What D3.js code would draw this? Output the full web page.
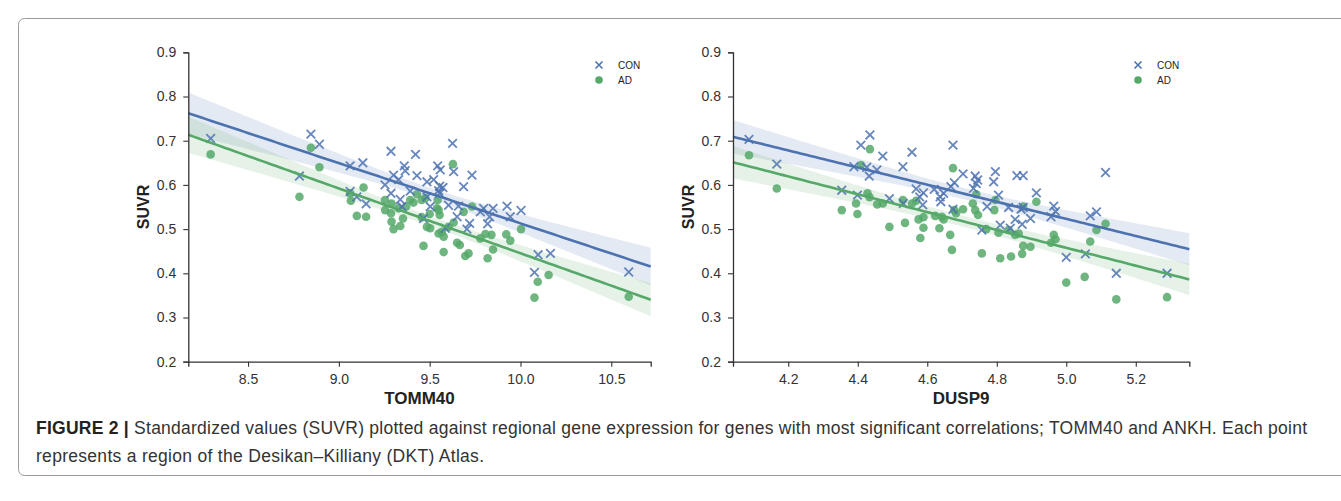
<!DOCTYPE html>
<html><head><meta charset="utf-8">
<script src="https://cdn.jsdelivr.net/npm/d3@7/dist/d3.min.js"></script>
<style>
body{margin:0;background:#fff;}
svg{display:block;}
text{font-family:"Liberation Sans",Arial,sans-serif;}
</style></head>
<body>
<svg id="fig" width="1341" height="501"></svg>
<script>
// ---------- DATA ----------
const seriesNames = ["CON", "AD"];
const yTicks = [0.2, 0.3, 0.4, 0.5, 0.6, 0.7, 0.8, 0.9];
const tommTicks = [8.5, 9.0, 9.5, 10.0, 10.5];
const duspTicks = [4.2, 4.4, 4.6, 4.8, 5.0, 5.2];

// TOMM40 expression (x) and SUVR (y), control group
const tommConX = [8.294,8.846,8.893,8.783,9.062,9.132,9.287,9.422,9.360,9.365,9.301,9.430,9.254,9.485,9.287,9.393,9.338,9.062,9.099,9.150,9.626,9.544,9.558,9.632,9.733,9.522,9.329,9.555,9.573,9.549,9.555,9.687,9.485,9.347,9.604,9.659,9.503,9.797,9.849,9.926,10.003,9.944,9.830,9.651,9.819,9.720,9.705,9.466,9.586,10.097,10.077,10.165,10.596,9.779];
const tommConY = [0.705,0.715,0.692,0.620,0.643,0.650,0.676,0.669,0.643,0.632,0.622,0.621,0.600,0.607,0.581,0.586,0.567,0.585,0.573,0.557,0.694,0.643,0.634,0.630,0.622,0.612,0.612,0.597,0.594,0.587,0.581,0.596,0.573,0.551,0.554,0.552,0.551,0.547,0.547,0.552,0.542,0.528,0.528,0.528,0.512,0.513,0.500,0.524,0.502,0.442,0.402,0.445,0.403,0.539];
// TOMM40, AD group
const tommAdX = [8.294,8.846,8.893,8.783,9.136,9.062,9.066,9.099,9.150,9.254,9.290,9.255,9.287,9.430,9.393,9.411,9.371,9.329,9.290,9.301,9.338,9.353,9.466,9.485,9.628,9.456,9.476,9.544,9.540,9.555,9.549,9.500,9.456,9.503,9.549,9.567,9.577,9.577,9.604,9.632,9.651,9.666,9.696,9.714,9.687,9.733,9.779,9.807,9.840,9.849,9.819,9.922,9.944,10.003,10.155,10.095,10.077,10.596];
const tommAdY = [0.669,0.684,0.640,0.573,0.594,0.581,0.564,0.530,0.528,0.566,0.558,0.543,0.536,0.579,0.566,0.560,0.551,0.547,0.517,0.500,0.507,0.524,0.462,0.505,0.647,0.566,0.570,0.566,0.547,0.532,0.543,0.534,0.527,0.502,0.490,0.494,0.483,0.448,0.505,0.515,0.469,0.464,0.439,0.445,0.539,0.551,0.479,0.489,0.487,0.454,0.434,0.488,0.474,0.500,0.396,0.381,0.345,0.347];

// DUSP9 expression (x) and SUVR (y), control group
const duspConX = [4.087,4.167,4.435,4.409,4.472,4.556,4.530,4.389,4.426,4.433,4.455,4.674,4.703,4.354,4.399,4.491,4.568,4.589,4.578,4.587,4.637,4.647,4.668,4.678,4.639,4.674,4.620,4.531,4.738,4.745,4.741,4.796,4.791,4.858,4.876,4.914,4.805,4.772,4.834,4.876,4.870,4.897,4.853,4.873,4.810,4.839,4.757,5.113,4.964,4.969,5.087,5.069,4.733,4.956,5.000,5.055,5.144,5.290];
const duspConY = [0.703,0.647,0.713,0.690,0.665,0.674,0.641,0.641,0.640,0.620,0.634,0.690,0.625,0.588,0.577,0.569,0.591,0.582,0.573,0.555,0.573,0.581,0.596,0.605,0.562,0.545,0.590,0.558,0.620,0.611,0.603,0.630,0.607,0.621,0.621,0.582,0.577,0.551,0.549,0.549,0.545,0.524,0.522,0.511,0.509,0.502,0.498,0.628,0.552,0.540,0.539,0.530,0.592,0.528,0.436,0.444,0.400,0.400];
// DUSP9, AD group
const duspAdX = [4.087,4.167,4.435,4.409,4.674,4.354,4.395,4.399,4.428,4.434,4.456,4.472,4.530,4.556,4.568,4.703,4.678,4.683,4.491,4.536,4.575,4.589,4.589,4.580,4.623,4.642,4.647,4.635,4.666,4.671,4.731,4.738,4.746,4.741,4.757,4.793,4.796,4.810,4.841,4.805,4.834,4.853,4.863,4.873,4.876,4.897,4.914,4.770,4.964,4.969,4.956,5.000,5.053,5.069,5.087,5.113,5.144,5.290,4.876];
const duspAdY = [0.667,0.592,0.681,0.645,0.638,0.543,0.558,0.534,0.581,0.572,0.556,0.558,0.566,0.558,0.564,0.545,0.543,0.536,0.505,0.514,0.522,0.527,0.503,0.480,0.530,0.528,0.522,0.502,0.487,0.453,0.558,0.543,0.532,0.579,0.445,0.543,0.566,0.434,0.438,0.492,0.498,0.487,0.490,0.444,0.462,0.460,0.562,0.500,0.487,0.477,0.469,0.379,0.392,0.472,0.498,0.512,0.341,0.346,0.551];

const captionBold = "FIGURE 2 | ";
const captionLine1 = "Standardized values (SUVR) plotted against regional gene expression for genes with most significant correlations; TOMM40 and ANKH. Each point";
const captionLine2 = "represents a region of the Desikan–Killiany (DKT) Atlas.";

// ---------- STYLE ----------
const colors = {CON: "#4C72B0", AD: "#55A868"};
const svg = d3.select("#fig");

svg.append("rect").attr("x", 18.5).attr("y", 18.5).attr("width", 1340).attr("height", 457)
  .attr("rx", 6).attr("fill", "none").attr("stroke", "#9a9a9a").attr("stroke-width", 1);

function zip(xs, ys){ return xs.map((x,i)=>({x, y: ys[i]})); }

function fit(pts){
  const n = pts.length;
  const mx = d3.mean(pts, d=>d.x), my = d3.mean(pts, d=>d.y);
  let sxx=0, sxy=0;
  pts.forEach(d=>{ sxx += (d.x-mx)**2; sxy += (d.x-mx)*(d.y-my); });
  const b = sxy/sxx, a = my - b*mx;
  let sse = 0; pts.forEach(d=>{ sse += (d.y - a - b*d.x)**2; });
  const s = Math.sqrt(sse/(n-2));
  const t = 2.0;
  return {a, b, band: x => t*s*Math.sqrt(1/n + (x-mx)**2/sxx)};
}

function panel(opts){
  const g = svg.append("g");
  const x = d3.scaleLinear().domain(opts.xDomain).range([opts.left, opts.right]);
  const y = d3.scaleLinear().domain([0.2, 0.9]).range([361.7, 52.3]);

  const groups = [
    {name: "CON", pts: zip(opts.conX, opts.conY)},
    {name: "AD",  pts: zip(opts.adX, opts.adY)}
  ];
  const xs = d3.range(0, 101).map(i => opts.xDomain[0] + (opts.xDomain[1]-opts.xDomain[0])*i/100);

  groups.forEach(gr=>{
    const f = fit(gr.pts); gr.f = f;
    const area = d3.area().x(v=>x(v)).y0(v=>y(f.a+f.b*v - f.band(v))).y1(v=>y(f.a+f.b*v + f.band(v)));
    g.append("path").datum(xs).attr("d", area).attr("fill", colors[gr.name]).attr("fill-opacity", 0.15);
  });
  const ad = groups[1], con = groups[0];
  g.append("g").selectAll("circle").data(ad.pts).join("circle")
    .attr("cx", d=>x(d.x)).attr("cy", d=>y(d.y)).attr("r", 4.3)
    .attr("fill", colors.AD).attr("fill-opacity", 0.85);
  const s = 4.3;
  g.append("g").selectAll("path").data(con.pts).join("path")
    .attr("d", d=>{const cx=x(d.x), cy=y(d.y); return `M${cx-s},${cy-s}L${cx+s},${cy+s}M${cx-s},${cy+s}L${cx+s},${cy-s}`;})
    .attr("stroke", colors.CON).attr("stroke-width", 1.8).attr("stroke-opacity", 0.85).attr("fill","none");
  groups.forEach(gr=>{
    const f = gr.f;
    g.append("path").datum(xs).attr("d", d3.line().x(v=>x(v)).y(v=>y(f.a+f.b*v)))
      .attr("fill","none").attr("stroke", colors[gr.name]).attr("stroke-width", 2.6);
  });

  const xAxis = g.append("g").attr("transform", "translate(0,361.7)")
    .call(d3.axisBottom(x).tickValues(opts.ticks).tickFormat(d3.format(".1f")).tickSizeOuter(0).tickSize(5).tickPadding(7));
  const yAxis = g.append("g").attr("transform", `translate(${opts.left},0)`)
    .call(d3.axisLeft(y).tickValues(yTicks).tickFormat(d3.format(".1f")).tickSizeOuter(0).tickSize(5).tickPadding(7));
  [xAxis, yAxis].forEach(a=>{
    a.select(".domain").attr("stroke", "#333").attr("stroke-width", 1.3);
    a.selectAll(".tick line").attr("stroke", "#333").attr("stroke-width", 1.1);
    a.selectAll(".tick text").attr("fill", "#333").style("font-size", "14px");
  });

  g.append("text").attr("x", (opts.left+opts.right)/2).attr("y", 404).attr("text-anchor","middle")
    .style("font-size","17px").style("font-weight","bold").attr("fill","#222").text(opts.xLabel);
  g.append("text").attr("transform", `translate(${opts.left-39},207) rotate(-90)`).attr("text-anchor","middle")
    .style("font-size","16px").style("font-weight","bold").attr("fill","#222").text("SUVR");

  const lg = g.append("g").attr("transform", `translate(${opts.legX},65)`);
  seriesNames.forEach((nm,i)=>{
    const cy = i*15;
    if(nm==="CON"){
      lg.append("path").attr("d", `M${-3.5},${cy-3.5}L${3.5},${cy+3.5}M${-3.5},${cy+3.5}L${3.5},${cy-3.5}`)
        .attr("stroke", colors.CON).attr("stroke-width", 1.6);
    } else {
      lg.append("circle").attr("cx",0).attr("cy",cy).attr("r",3.8).attr("fill",colors.AD);
    }
    lg.append("text").attr("x", 19).attr("y", cy+3.5).style("font-size","10px").attr("fill","#222").text(nm);
  });
}

panel({xDomain:[8.171, 10.717], left:188.3, right:650.7, ticks:tommTicks, xLabel:"TOMM40",
  conX:tommConX, conY:tommConY, adX:tommAdX, adY:tommAdY, legX:599});
panel({xDomain:[4.041, 5.354], left:733, right:1189.3, ticks:duspTicks, xLabel:"DUSP9",
  conX:duspConX, conY:duspConY, adX:duspAdX, adY:duspAdY, legX:1138});

const cap = svg.append("text").attr("x", 36).attr("y", 434).style("font-size","17.5px").attr("fill","#333")
  .attr("textLength", 1271).attr("lengthAdjust", "spacing");
cap.append("tspan").style("font-weight","bold").attr("fill","#222").text(captionBold);
cap.append("tspan").text(captionLine1);
svg.append("text").attr("x", 36).attr("y", 462).style("font-size","17.5px").attr("fill","#333")
  .attr("textLength", 448).attr("lengthAdjust", "spacing").text(captionLine2);
</script>
</body></html>
